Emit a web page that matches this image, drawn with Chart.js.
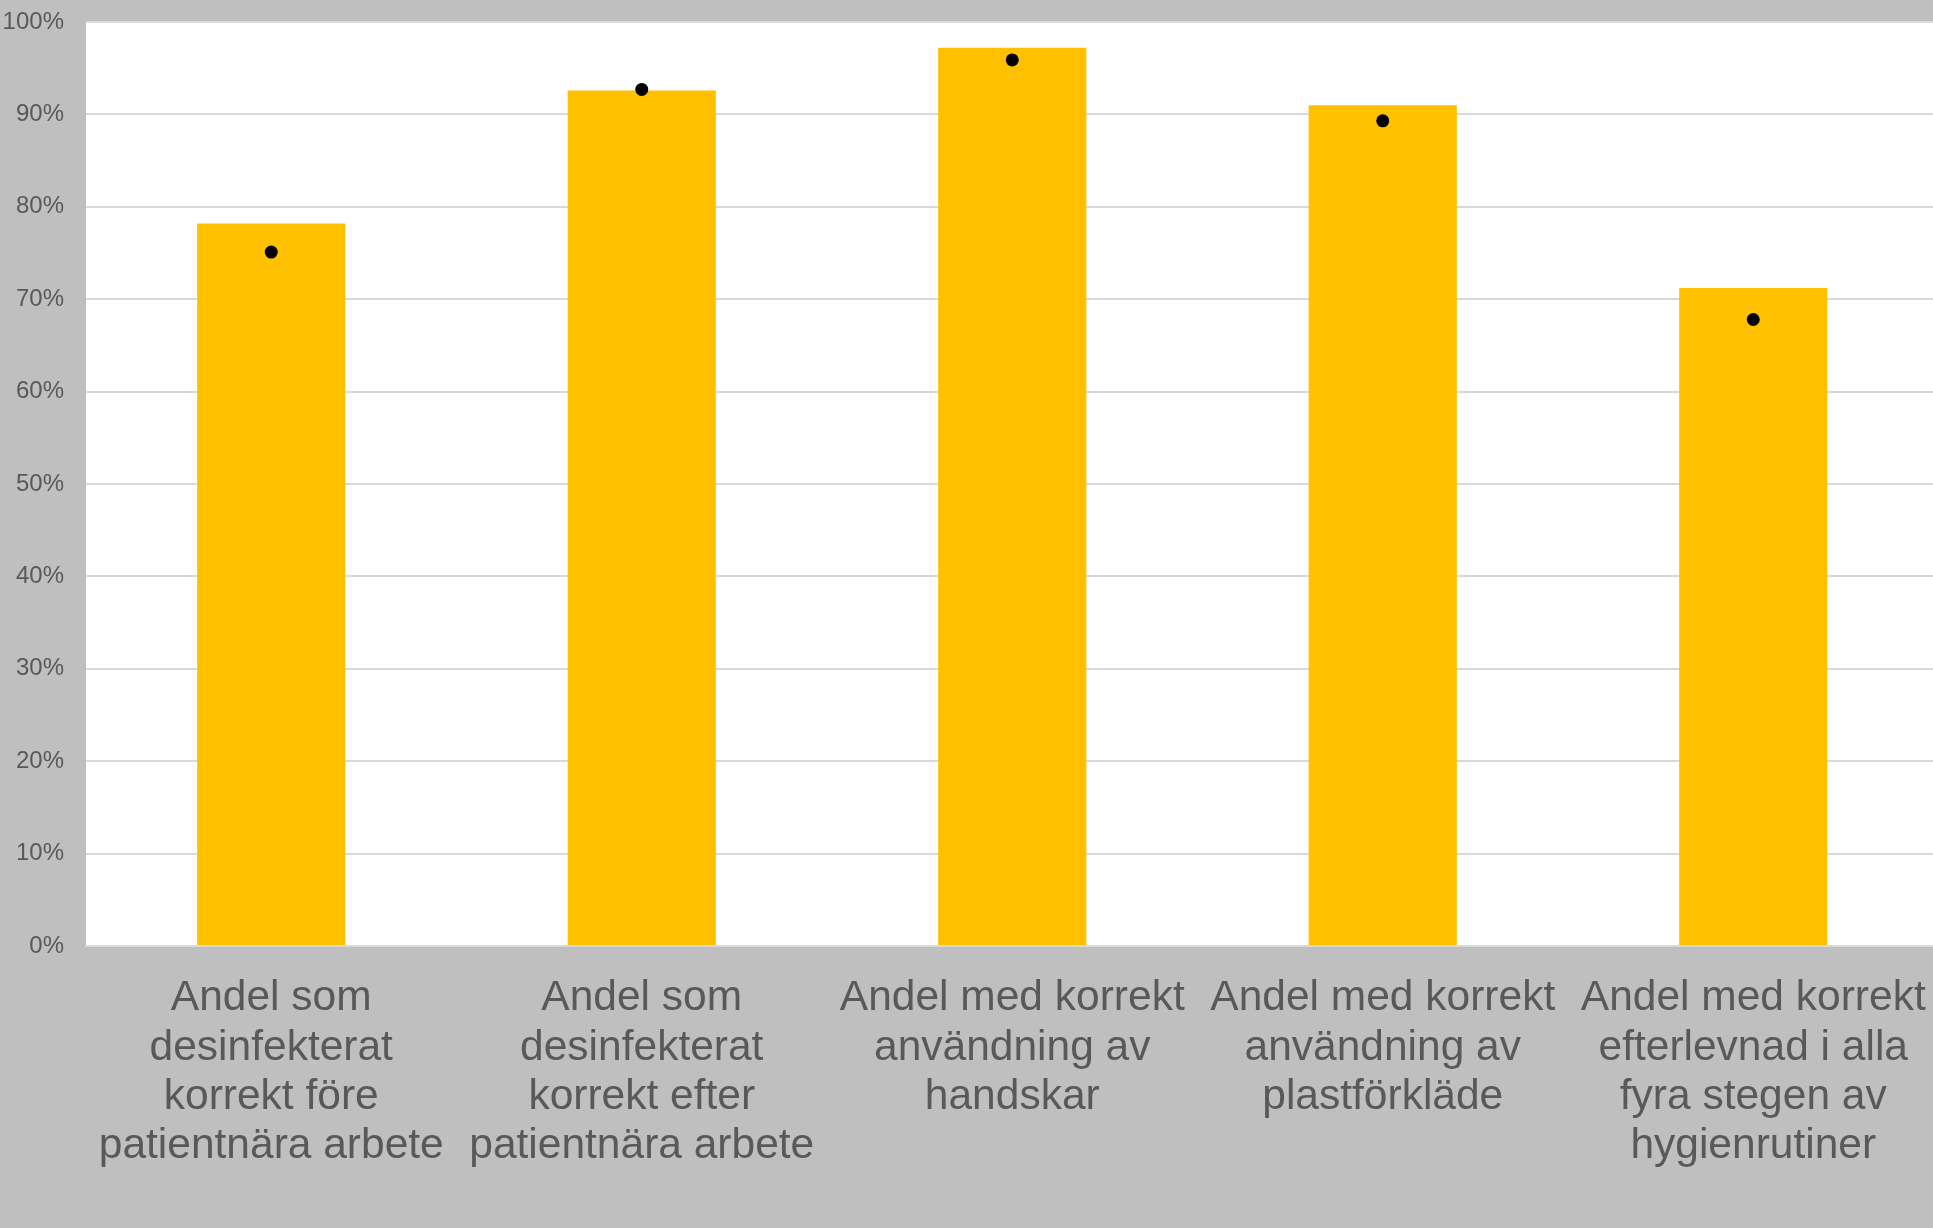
<!DOCTYPE html>
<html>
<head>
<meta charset="utf-8">
<script src="https://cdn.jsdelivr.net/npm/chart.js@4"></script>
<style>
  html, body { margin: 0; padding: 0; background: #bfbfbf; overflow: hidden; }
  canvas { display: block; }
</style>
</head>
<body>
<canvas id="c" width="1945" height="1228"></canvas>
<script>
const categories = [
  ["Andel som", "desinfekterat", "korrekt före", "patientnära arbete"],
  ["Andel som", "desinfekterat", "korrekt efter", "patientnära arbete"],
  ["Andel med korrekt", "användning av", "handskar"],
  ["Andel med korrekt", "användning av", "plastförkläde"],
  ["Andel med korrekt", "efterlevnad i alla", "fyra stegen av", "hygienrutiner"]
];
const barValues = [78.2, 92.6, 97.2, 91.0, 71.2];
const dotValues = [75.1, 92.7, 95.9, 89.3, 67.8];
const yTicks = [0, 10, 20, 30, 40, 50, 60, 70, 80, 90, 100];

const FONT = '"Liberation Sans", Arial, sans-serif';

const plotBg = {
  id: 'plotBg',
  beforeDraw(chart) {
    const { ctx, chartArea: a } = chart;
    ctx.save();
    ctx.fillStyle = '#bfbfbf';
    ctx.fillRect(0, 0, chart.width, chart.height);
    ctx.fillStyle = '#ffffff';
    ctx.fillRect(a.left, a.top, a.right - a.left, a.bottom - a.top);
    ctx.restore();
  }
};

new Chart(document.getElementById('c'), {
  type: 'bar',
  data: {
    labels: categories,
    datasets: [
      {
        type: 'line',
        data: dotValues,
        showLine: false,
        pointRadius: 6.5,
        pointHoverRadius: 6.5,
        pointBackgroundColor: '#000000',
        pointBorderColor: '#000000',
        pointBorderWidth: 0,
        order: 0
      },
      {
        type: 'bar',
        data: barValues,
        backgroundColor: '#FFC000',
        borderWidth: 0,
        barPercentage: 0.4,
        categoryPercentage: 1.0,
        order: 1
      }
    ]
  },
  options: {
    responsive: false,
    devicePixelRatio: 1,
    animation: false,
    layout: { padding: { top: 22, left: 0, right: 0, bottom: 0 } },
    plugins: { legend: { display: false }, tooltip: { enabled: false } },
    scales: {
      x: {
        grid: { display: false, drawTicks: false },
        border: { display: true, color: '#d9d9d9', width: 2 },
        ticks: {
          color: '#595959',
          font: { family: FONT, size: 42.5, lineHeight: 1.16 },
          padding: 28,
          maxRotation: 0,
          autoSkip: false
        },
        afterFit(scale) {
          scale.height = 282;
          scale.paddingLeft = 0; scale.paddingRight = 0;
          scale.paddingTop = 0; scale.paddingBottom = 0;
        }
      },
      y: {
        min: 0,
        max: 100,
        afterBuildTicks(scale) { scale.ticks = yTicks.map(v => ({ value: v })); },
        grid: { color: '#d9d9d9', lineWidth: 2, drawTicks: false },
        border: { display: false },
        ticks: {
          color: '#595959',
          font: { family: FONT, size: 24 },
          padding: 22,
          callback: v => v + '%'
        },
        afterFit(scale) {
          scale.width = 86;
          scale.paddingLeft = 0; scale.paddingRight = 0;
          scale.paddingTop = 0; scale.paddingBottom = 0;
        }
      }
    }
  },
  plugins: [plotBg]
});
</script>
</body>
</html>
